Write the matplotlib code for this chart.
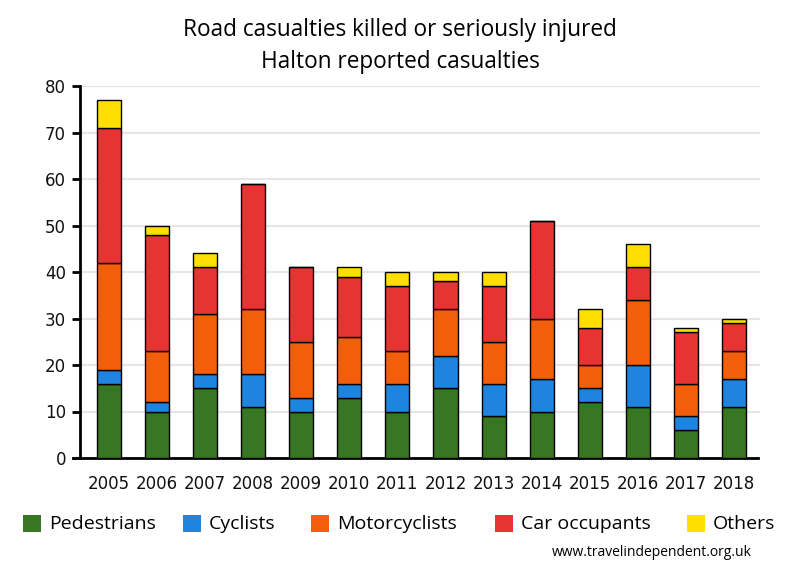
import matplotlib
matplotlib.use("Agg")
import matplotlib.pyplot as plt
from matplotlib.patches import Rectangle
import numpy as np

years = ["2005", "2006", "2007", "2008", "2009", "2010", "2011", "2012", "2013", "2014", "2015", "2016", "2017", "2018"]
pedestrians = [16, 10, 15, 11, 10, 13, 10, 15, 9, 10, 12, 11, 6, 11]
cyclists = [3, 2, 3, 7, 3, 3, 6, 7, 7, 7, 3, 9, 3, 6]
motorcyclists = [23, 11, 13, 14, 12, 10, 7, 10, 9, 13, 5, 14, 7, 6]
car_occupants = [29, 25, 10, 27, 16, 13, 14, 6, 12, 21, 8, 7, 11, 6]
others = [6, 2, 3, 0, 0, 2, 3, 2, 3, 0, 4, 5, 1, 1]

series = [
    ("Pedestrians", pedestrians, "#377622"),
    ("Cyclists", cyclists, "#1e84e0"),
    ("Motorcyclists", motorcyclists, "#f45d0a"),
    ("Car occupants", car_occupants, "#e83333"),
    ("Others", others, "#ffde00"),
]

fig = plt.figure(figsize=(8, 5.8), dpi=100)
ax = fig.add_axes([0.1, 1 - 458 / 580, 0.85, (458 - 86) / 580])

x = np.arange(len(years))
bottom = np.zeros(len(years))
for name, vals, col in series:
    v = np.array(vals, dtype=float)
    ax.bar(x, v, bottom=bottom, width=0.5, color=col, edgecolor="black", linewidth=1.0, zorder=3)
    bottom += v

ax.set_xlim(-0.6, 13.54)
ax.set_ylim(0, 80)
ax.set_yticks(range(0, 81, 10))
ax.yaxis.grid(True, color="#e6e6e6", linewidth=1.5, zorder=0)
ax.set_axisbelow(True)
for s in ["top", "right"]:
    ax.spines[s].set_visible(False)
ax.spines["left"].set_linewidth(2)
ax.spines["bottom"].set_linewidth(2)
ax.spines["bottom"].set_bounds(-0.75, 13.5)
ax.set_xticks(x)
ax.set_xticklabels(years)
ax.tick_params(axis="x", length=0, pad=12, labelsize=12)
ax.tick_params(axis="y", length=6, width=2, pad=4, labelsize=12)
for lab in ax.get_xticklabels() + ax.get_yticklabels():
    lab.set_fontfamily("DejaVu Sans")
    lab.set_color("#111111")

fig.text(0.5, 1 - 30 / 580, "Road casualties killed or seriously injured", ha="center", va="center",
         fontsize=16.3, family="Open Sans")
fig.text(0.5, 1 - 62 / 580, "Halton reported casualties", ha="center", va="center",
         fontsize=16.3, family="Open Sans")

box_x = [23, 183, 311, 495, 687]
for (name, vals, col), bx in zip(series, box_x):
    fig.patches.append(Rectangle((bx / 800, 1 - 532 / 580), 18 / 800, 17 / 580,
                                 transform=fig.transFigure, facecolor=col, edgecolor="none"))
    fig.text((bx + 26) / 800, 1 - 524 / 580, name, ha="left", va="center", fontsize=14,
             family="Open Sans")

fig.text(752 / 800, 1 - 553 / 580, "www.travelindependent.org.uk", ha="right", va="center",
         fontsize=10, family="Open Sans")

fig.savefig("out.png", dpi=100)
